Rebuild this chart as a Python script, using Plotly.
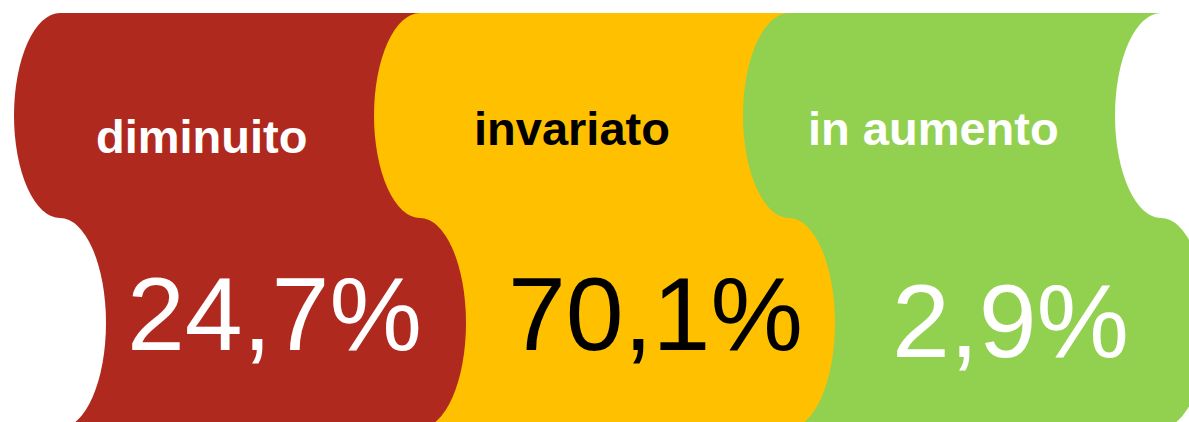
import plotly.graph_objects as go

categories = ["diminuito", "invariato", "in aumento"]
values = [24.7, 70.1, 2.9]
fill_colors = ["#B0291F", "#FFC000", "#92D050"]
text_colors = ["#FFFFFF", "#000000", "#FFFFFF"]

# layout geometry (pixels)
W, H = 1189, 422
bounds = [60, 420, 789, 1161]
top, mid, bottom = 13, 218, 428
rx = 46
label_y = [136, 128, 128]
value_y = [314, 314, 321]
label_x_off = [-39, -33, -42]
value_x_off = [34, 51, 35]

shapes = []
for i, c in enumerate(fill_colors):
    shapes.append(dict(type="rect", x0=bounds[i], x1=bounds[i + 1], y0=top, y1=bottom,
                       fillcolor=c, line=dict(width=0), layer="above"))
top_cols = fill_colors + ["#FFFFFF"]
bot_cols = ["#FFFFFF"] + fill_colors
for i, b in enumerate(bounds):
    shapes.append(dict(type="circle", x0=b - rx, x1=b + rx, y0=top, y1=mid,
                       fillcolor=top_cols[i], line=dict(width=0), layer="above"))
    shapes.append(dict(type="circle", x0=b - rx, x1=b + rx, y0=mid, y1=bottom,
                       fillcolor=bot_cols[i], line=dict(width=0), layer="above"))

annotations = []
for i, (cat, v) in enumerate(zip(categories, values)):
    cx = (bounds[i] + bounds[i + 1]) / 2
    annotations.append(dict(x=cx + label_x_off[i], y=label_y[i], xref="x", yref="y",
                            text="<b>" + cat + "</b>", showarrow=False,
                            font=dict(family="Liberation Sans, Arial", size=47, color=text_colors[i])))
    annotations.append(dict(x=cx + value_x_off[i], y=value_y[i], xref="x", yref="y",
                            text=f"{v:.1f}%".replace(".", ","), showarrow=False,
                            font=dict(family="Liberation Sans, Arial", size=104, color=text_colors[i])))

fig = go.Figure()
fig.add_trace(go.Scatter(x=[0, W], y=[0, H], mode="markers", marker=dict(opacity=0),
                         hoverinfo="skip", showlegend=False))
fig.update_layout(
    width=W, height=H, margin=dict(l=0, r=0, t=0, b=0),
    paper_bgcolor="white", plot_bgcolor="white",
    xaxis=dict(range=[0, W], visible=False, fixedrange=True),
    yaxis=dict(range=[H, 0], visible=False, fixedrange=True),
    shapes=shapes, annotations=annotations, showlegend=False,
)
fig.write_html("out.html", config={"displayModeBar": False},
               post_script="document.body.style.margin='0';document.body.style.overflow='hidden';")
